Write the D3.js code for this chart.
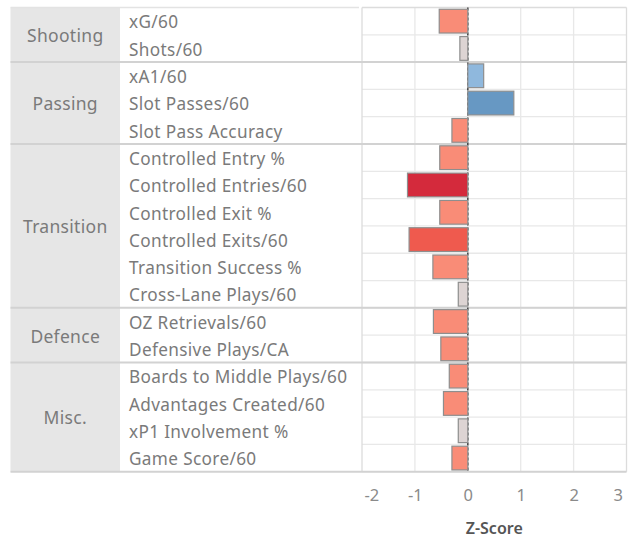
<!DOCTYPE html>
<html><head><meta charset="utf-8">
<script src="https://cdn.jsdelivr.net/npm/d3@7"></script>
<style>body{margin:0;background:#fff;} svg{display:block;}</style>
</head><body>
<svg id="chart" width="633" height="537"></svg>
<script>
// ---- data ----
const groups = ["Shooting", "Passing", "Transition", "Defence", "Misc."];
const metrics = ["xG/60", "Shots/60", "xA1/60", "Slot Passes/60", "Slot Pass Accuracy",
  "Controlled Entry %", "Controlled Entries/60", "Controlled Exit %", "Controlled Exits/60",
  "Transition Success %", "Cross-Lane Plays/60", "OZ Retrievals/60", "Defensive Plays/CA",
  "Boards to Middle Plays/60", "Advantages Created/60", "xP1 Involvement %", "Game Score/60"];
const metricGroup = ["Shooting", "Shooting", "Passing", "Passing", "Passing",
  "Transition", "Transition", "Transition", "Transition", "Transition", "Transition",
  "Defence", "Defence", "Misc.", "Misc.", "Misc.", "Misc."];
const zScores = [-0.54, -0.15, 0.30, 0.87, -0.30, -0.53, -1.14, -0.53, -1.11, -0.66, -0.18,
  -0.65, -0.51, -0.35, -0.46, -0.18, -0.30];
const xTicks = [-2, -1, 0, 1, 2, 3];
const axisTitle = "Z-Score";

// ---- layout ----
const svg = d3.select("#chart");
const yTop = 7.5, yBottom = 471.7;
const hdrX0 = 10.5, hdrX1 = 120, lblX1 = 359, plotX0 = 362, plotX1 = 626.5;
const FONT = "'Noto Sans', sans-serif";

const x = d3.scaleLinear().domain([-2, 3]).range([plotX0, plotX1]);
const row = d3.scaleBand().domain(metrics).range([yTop, yBottom]);
const bar = d3.scaleBand().domain(metrics).range([yTop, yBottom]).paddingInner(0.13).paddingOuter(0.065);
const color = d3.scaleThreshold()
  .domain([-1.125, -0.9, -0.25, 0.2, 0.5])
  .range(["#d42a3c", "#ef5a4e", "#f98c77", "#ddd4d3", "#8fb8dd", "#6798c3"]);

// group extents
const gInfo = groups.map(g => {
  const idx = metrics.filter((m, i) => metricGroup[i] === g);
  const y0 = row(idx[0]), y1 = row(idx[idx.length - 1]) + row.bandwidth();
  return {g, y0, y1};
});

// header column background
svg.append("g").selectAll("rect").data(gInfo).join("rect")
  .attr("x", hdrX0).attr("width", hdrX1 - hdrX0)
  .attr("y", d => d.y0).attr("height", d => d.y1 - d.y0)
  .attr("fill", "#e6e6e6");

// plot horizontal row lines
svg.append("g").selectAll("line").data(metrics).join("line")
  .attr("x1", plotX0).attr("x2", plotX1)
  .attr("y1", d => row(d) + row.bandwidth()).attr("y2", d => row(d) + row.bandwidth())
  .attr("stroke", "#e8e8e8").attr("stroke-width", 1.3);

// vertical grid lines
svg.append("g").selectAll("line").data(xTicks).join("line")
  .attr("x1", d => x(d)).attr("x2", d => x(d))
  .attr("y1", yTop).attr("y2", yBottom)
  .attr("stroke", d => (d === xTicks[0] || d === xTicks[xTicks.length - 1]) ? "#dcdcdc" : "#e8e8e8")
  .attr("stroke-width", 1.3);

// top border lines
svg.append("line").attr("x1", hdrX0).attr("x2", lblX1).attr("y1", yTop).attr("y2", yTop)
  .attr("stroke", "#e3e3e3").attr("stroke-width", 1.5);
svg.append("line").attr("x1", plotX0).attr("x2", plotX1).attr("y1", yTop).attr("y2", yTop)
  .attr("stroke", "#dcdcdc").attr("stroke-width", 1.5);

// group separator lines
svg.append("g").selectAll("line").data(gInfo).join("line")
  .attr("x1", hdrX0).attr("x2", plotX1)
  .attr("y1", d => d.y1).attr("y2", d => d.y1)
  .attr("stroke", "#d2d2d2").attr("stroke-width", 2);

// zero reference line
svg.append("line").attr("x1", x(0)).attr("x2", x(0)).attr("y1", yTop).attr("y2", yBottom)
  .attr("stroke", "#4a4a4a").attr("stroke-width", 1.6).attr("stroke-dasharray", "3,2");

// bars
svg.append("g").selectAll("rect").data(metrics).join("rect")
  .attr("x", (d, i) => x(Math.min(0, zScores[i])))
  .attr("width", (d, i) => Math.abs(x(zScores[i]) - x(0)))
  .attr("y", d => bar(d)).attr("height", bar.bandwidth())
  .attr("fill", (d, i) => color(zScores[i]))
  .attr("stroke", "#8e8e8e").attr("stroke-width", 1.2);

// group labels
svg.append("g").selectAll("text").data(gInfo).join("text")
  .attr("x", (hdrX0 + hdrX1) / 2).attr("y", d => (d.y0 + d.y1) / 2)
  .attr("dy", "0.42em").attr("text-anchor", "middle")
  .attr("font-family", FONT).attr("font-size", 17.5).attr("letter-spacing", 0.3)
  .attr("fill", "#7a7a7a")
  .text(d => d.g);

// metric labels
svg.append("g").selectAll("text").data(metrics).join("text")
  .attr("x", 129).attr("y", d => row(d) + row.bandwidth() / 2)
  .attr("dy", "0.42em")
  .attr("font-family", FONT).attr("font-size", 17.2).attr("letter-spacing", 0.35)
  .attr("fill", "#7a7a7a")
  .text(d => d);

// x axis
const axis = svg.append("g").attr("transform", `translate(0,${yBottom})`)
  .call(d3.axisBottom(x).tickValues(xTicks).tickSize(0).tickFormat(d => String(d)));
axis.select(".domain").remove();
axis.selectAll("text").attr("font-family", FONT).attr("font-size", 16.5).attr("fill", "#8a8a8a")
  .attr("y", 29).attr("dy", null)
  .attr("text-anchor", (d, i) => i === 0 ? "start" : (i === xTicks.length - 1 ? "end" : "middle"))
  .attr("dx", (d, i) => i === 0 ? 2 : (i === xTicks.length - 1 ? -4 : 0));

svg.append("text").attr("x", (plotX0 + plotX1) / 2).attr("y", 533.5)
  .attr("text-anchor", "middle").attr("font-family", FONT).attr("font-size", 16)
  .attr("font-weight", 600).attr("fill", "#555").text(axisTitle);
</script>
</body></html>
